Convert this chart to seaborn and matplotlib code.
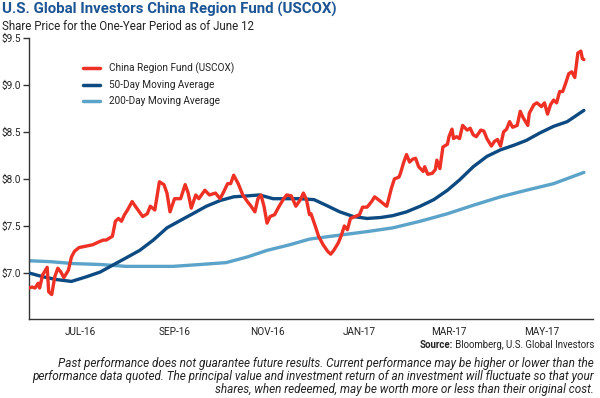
import matplotlib
matplotlib.use("Agg")
import matplotlib.pyplot as plt
from matplotlib import font_manager
import seaborn as sns
import pandas as pd

# ---- data ----
start_date = "2016-06-12"
fund_days = [0, 2, 4, 6, 7, 9, 12, 13, 15, 17, 19, 21, 23, 26, 28, 30, 33, 36, 39, 42,
             46, 49, 51, 55, 57, 59, 61, 63, 65, 68, 71, 75, 78, 80, 83, 86, 89, 91, 93, 96,
             100, 103, 105, 107, 110, 112, 116, 119, 123, 126, 128, 131, 133, 135, 138, 141, 144, 146, 149, 151,
             153, 155, 157, 159, 162, 165, 168, 170, 173, 176, 179, 181, 183, 185, 186, 189, 191, 194, 197, 199,
             201, 204, 206, 208, 210, 212, 215, 218, 220, 223, 226, 228, 232, 235, 236, 239, 241, 244, 245, 247,
             249, 251, 253, 255, 257, 260, 261, 263, 266, 268, 269, 271, 273, 276, 277, 279, 280, 282, 284, 286,
             289, 291, 293, 295, 298, 300, 302, 305, 307, 309, 311, 313, 315, 317, 319, 322, 324, 326, 329, 330,
             333, 335, 338, 340, 342, 344, 346, 348, 350, 352, 354, 356, 358, 360, 362, 364, 365, 366]
fund_price = [6.84, 6.85, 6.84, 6.89, 6.84, 6.98, 7.06, 6.80, 6.77, 6.96, 7.05, 7.01, 6.95, 7.03, 7.17, 7.23, 7.27, 7.28, 7.29, 7.30,
              7.33, 7.35, 7.35, 7.39, 7.55, 7.58, 7.55, 7.62, 7.67, 7.76, 7.69, 7.60, 7.63, 7.71, 7.67, 7.97, 7.94, 7.85, 7.65, 7.79,
              7.79, 7.94, 7.85, 7.69, 7.83, 7.79, 7.88, 7.83, 7.85, 7.79, 7.85, 7.95, 7.95, 8.04, 7.95, 7.83, 7.76, 7.72, 7.65, 7.79,
              7.83, 7.71, 7.53, 7.60, 7.62, 7.71, 7.79, 7.83, 7.82, 7.71, 7.78, 7.85, 7.78, 7.62, 7.63, 7.49, 7.39, 7.30, 7.23, 7.20,
              7.24, 7.32, 7.40, 7.50, 7.46, 7.58, 7.60, 7.62, 7.70, 7.70, 7.76, 7.81, 7.76, 7.72, 7.71, 7.90, 8.00, 8.02, 8.06, 8.17,
              8.26, 8.18, 8.21, 8.22, 8.13, 8.08, 8.13, 8.05, 8.06, 8.10, 8.20, 8.11, 8.34, 8.37, 8.45, 8.53, 8.43, 8.45, 8.43, 8.57,
              8.52, 8.54, 8.47, 8.45, 8.52, 8.51, 8.43, 8.35, 8.40, 8.42, 8.35, 8.50, 8.53, 8.61, 8.55, 8.57, 8.72, 8.65, 8.57, 8.70,
              8.79, 8.81, 8.77, 8.81, 8.69, 8.79, 8.84, 8.81, 8.93, 8.93, 9.02, 9.12, 9.14, 9.08, 9.34, 9.36, 9.28, 9.27]

ma50_days = [0, 9, 18, 28, 38, 47, 56, 64, 73, 82, 91, 100, 108, 117, 126, 135, 144, 152, 161, 170,
             179, 188, 196, 205, 214, 223, 232, 240, 249, 258, 267, 276, 284, 293, 302, 311, 320, 328, 337, 346,
             355, 366]
ma50_price = [7.00, 6.96, 6.93, 6.91, 6.96, 7.01, 7.09, 7.16, 7.24, 7.35, 7.48, 7.56, 7.63, 7.71, 7.77, 7.81, 7.82, 7.83, 7.79, 7.79,
              7.79, 7.78, 7.72, 7.65, 7.60, 7.58, 7.59, 7.61, 7.65, 7.71, 7.78, 7.88, 7.99, 8.13, 8.24, 8.31, 8.36, 8.41, 8.49, 8.56,
              8.61, 8.73]

ma200_days = [0, 14, 29, 47, 64, 80, 95, 113, 130, 144, 157, 172, 185, 199, 223, 240, 258, 276, 293, 311,
              328, 346, 366]
ma200_price = [7.13, 7.12, 7.10, 7.09, 7.07, 7.07, 7.07, 7.09, 7.11, 7.17, 7.24, 7.30, 7.36, 7.39, 7.44, 7.48, 7.55, 7.63, 7.72, 7.81,
               7.88, 7.95, 8.07]

series_labels = ["China Region Fund (USCOX)", "50-Day Moving Average", "200-Day Moving Average"]
series_colors = ["#ee3124", "#0d4a82", "#5ba3c9"]

y_ticks = [7.0, 7.5, 8.0, 8.5, 9.0, 9.5]
y_tick_labels = ["$7.0", "$7.5", "$8.0", "$8.5", "$9.0", "$9.5"]
x_tick_dates = ["2016-07-16", "2016-09-16", "2016-11-16", "2017-01-16", "2017-03-16", "2017-05-16"]
x_tick_labels = ["JUL-16", "SEP-16", "NOV-16", "JAN-17", "MAR-17", "MAY-17"]

title = "U.S. Global Investors China Region Fund (USCOX)"
subtitle = "Share Price for the One-Year Period as of June 12"
source_bold = "Source:"
source_rest = " Bloomberg, U.S. Global Investors"
disclaimer = [
    "Past performance does not guarantee future results. Current performance may be higher or lower than the",
    "performance data quoted. The principal value and investment return of an investment will fluctuate so that your",
    "shares, when redeemed, may be worth more or less than their original cost.",
]

# ---- build frame ----
t0 = pd.Timestamp(start_date)
frames = []
for days, vals, lab in [(fund_days, fund_price, series_labels[0]),
                        (ma50_days, ma50_price, series_labels[1]),
                        (ma200_days, ma200_price, series_labels[2])]:
    frames.append(pd.DataFrame({"date": t0 + pd.to_timedelta(days, unit="D"),
                                "price": vals, "series": lab}))
df = pd.concat(frames, ignore_index=True)

sns.set_style("white")
avail = {f.name for f in font_manager.fontManager.ttflist}
base_font = "Roboto" if "Roboto" in avail else "DejaVu Sans"
narrow = "Liberation Sans Narrow" if "Liberation Sans Narrow" in avail else base_font
plt.rcParams["font.family"] = [base_font, "DejaVu Sans"]

fig = plt.figure(figsize=(6.0, 3.98), dpi=100)
W, H = 600, 398
ax = fig.add_axes([29 / W, 1 - 319 / H, (593 - 29) / W, (319 - 38) / H])

sns.lineplot(data=df, x="date", y="price", hue="series", hue_order=series_labels,
             palette=series_colors, linewidth=2.4, ax=ax, legend=True, sort=True)
lines = ax.get_lines()
if len(lines) >= 3:
    lines[0].set_zorder(4)
    lines[1].set_zorder(3)
    lines[2].set_zorder(2)

ax.set_xlim(t0, t0 + pd.Timedelta(days=372))
ax.set_ylim(6.51, 9.5)
ax.set_yticks(y_ticks)
ax.set_yticklabels(y_tick_labels)
ax.set_xticks(pd.to_datetime(x_tick_dates))
ax.set_xticklabels(x_tick_labels)
ax.set_xlabel("")
ax.set_ylabel("")
for s in ["top", "right"]:
    ax.spines[s].set_visible(False)
for s in ["left", "bottom"]:
    ax.spines[s].set_color("#333333")
    ax.spines[s].set_linewidth(1.0)
ax.tick_params(axis="y", which="both", left=True, length=4, width=1, color="#333333",
               labelsize=7.2, labelcolor="#222222", pad=2)
ax.tick_params(axis="x", which="both", bottom=False, length=0, labelsize=7.2,
               labelcolor="#222222", pad=6)
for lab in ax.get_xticklabels() + ax.get_yticklabels():
    lab.set_family([narrow, "DejaVu Sans"])

leg = ax.legend(loc="upper left", bbox_to_anchor=(0.088, 0.927), frameon=False,
                fontsize=7.2, handlelength=1.7, handletextpad=0.9, labelspacing=0.6,
                borderaxespad=0)
for lh in leg.get_lines():
    lh.set_linewidth(2.5)
for tx in leg.get_texts():
    tx.set_color("#222222")

fig.text(2 / W, 1 - 14 / H, title, fontsize=10.8, fontweight="bold", color="#1c5494",
         family=[narrow, "DejaVu Sans"], ha="left", va="baseline")
fig.text(2 / W, 1 - 29.5 / H, subtitle, fontsize=8.3, color="#222222",
         family=[base_font, "DejaVu Sans"], ha="left", va="baseline")

fig.canvas.draw()
rend = fig.canvas.get_renderer()
t_rest = fig.text(594 / W, 1 - 348 / H, source_rest, fontsize=6.9, color="#222222",
                  ha="right", va="baseline")
bb = t_rest.get_window_extent(renderer=rend)
fig.text(bb.x0 / W, 1 - 348 / H, source_bold, fontsize=6.9, fontweight="bold",
         color="#222222", ha="right", va="baseline")

for i, line in enumerate(disclaimer):
    fig.text(594 / W, 1 - (367 + 13 * i) / H, line, fontsize=8.5, style="italic",
             color="#222222", ha="right", va="baseline")

fig.savefig("out.png", dpi=100)
